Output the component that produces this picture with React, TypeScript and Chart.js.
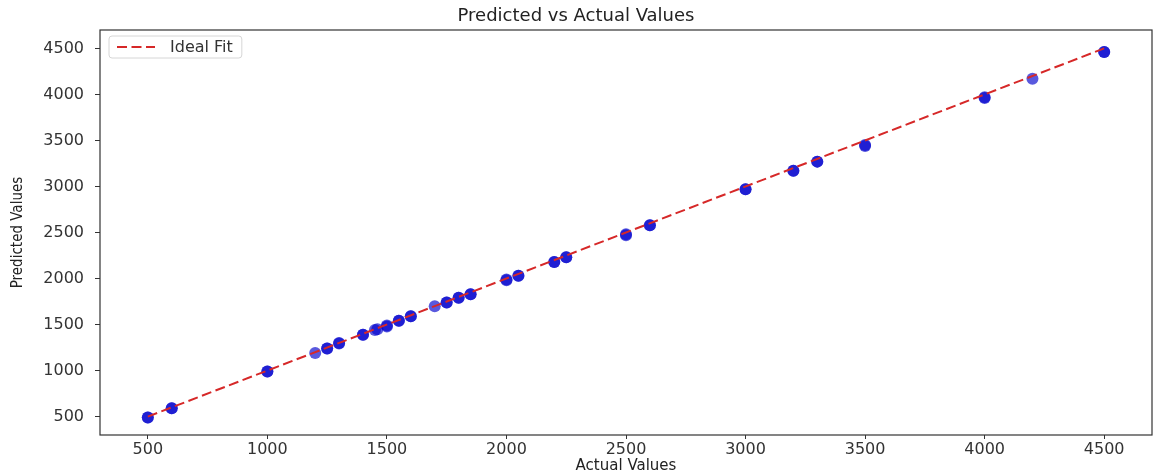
import React, { useEffect, useRef } from "react";
import { Chart, registerables } from "chart.js";

Chart.register(...registerables);

// ---- data ----
const actualValues = [
  500, 500, 600, 600, 1000, 1000, 1200, 1250, 1250, 1300, 1300, 1400, 1400,
  1450, 1460, 1500, 1500, 1550, 1550, 1600, 1600, 1700, 1750, 1750, 1800, 1800,
  1850, 1850, 2000, 2000, 2050, 2050, 2200, 2200, 2250, 2250, 2500, 2500, 2600,
  2600, 3000, 3000, 3200, 3200, 3300, 3300, 3500, 3500, 4000, 4000, 4200, 4500,
  4500,
];
const predictedValues = [
  490, 490, 590, 590, 990, 990, 1190, 1240, 1240, 1300, 1295, 1390, 1390,
  1440, 1450, 1480, 1490, 1540, 1540, 1590, 1590, 1700, 1740, 1740, 1790, 1790,
  1830, 1830, 1980, 1990, 2030, 2030, 2180, 2180, 2230, 2230, 2470, 2480, 2580,
  2580, 2970, 2970, 3170, 3170, 3270, 3270, 3450, 3440, 3960, 3970, 4170, 4460,
  4460,
];
const idealFitX = [500, 4500];
const idealFitY = [500, 4500];
const tickLabels = [500, 1000, 1500, 2000, 2500, 3000, 3500, 4000, 4500];
const axisMin = 300;
const axisMax = 4700;

const chartTitle = "Predicted vs Actual Values";
const xTitle = "Actual Values";
const yTitle = "Predicted Values";
const lineLabel = "Ideal Fit";

const LINE_COLOR = "rgb(214,40,40)";
const LINE_DASH = [10, 4.5];

const framePlugin = {
  id: "mplFrame",
  beforeDraw(chart: any) {
    const ctx = chart.ctx;
    ctx.save();
    ctx.fillStyle = "#ffffff";
    ctx.fillRect(0, 0, chart.width, chart.height);
    ctx.restore();
  },
  afterDraw(chart: any) {
    const ctx = chart.ctx;
    const { left, top, right, bottom } = chart.chartArea;
    ctx.save();
    ctx.strokeStyle = "#333333";
    ctx.lineWidth = 1.2;
    ctx.strokeRect(left, top, right - left, bottom - top);

    // legend box inside the axes (matplotlib style, upper left)
    const label = chart.data.datasets[0].label;
    ctx.font = '16px "DejaVu Sans"';
    const tw = ctx.measureText(label).width;
    const lx = left + 9;
    const ly = top + 6;
    const lh = 22;
    const lw = 8 + 38 + 15 + tw + 9;
    ctx.beginPath();
    (ctx as any).roundRect(lx, ly, lw, lh, 3);
    ctx.fillStyle = "rgba(255,255,255,0.85)";
    ctx.fill();
    ctx.strokeStyle = "#d6d6d6";
    ctx.lineWidth = 1;
    ctx.stroke();

    ctx.beginPath();
    ctx.setLineDash(LINE_DASH);
    ctx.strokeStyle = LINE_COLOR;
    ctx.lineWidth = 2;
    ctx.moveTo(lx + 8, ly + lh / 2);
    ctx.lineTo(lx + 46, ly + lh / 2);
    ctx.stroke();
    ctx.setLineDash([]);

    ctx.fillStyle = "#333333";
    ctx.textBaseline = "middle";
    ctx.textAlign = "left";
    ctx.fillText(label, lx + 61, ly + lh / 2 + 0.5);
    ctx.restore();
  },
};

export default function App() {
  const canvasRef = useRef<HTMLCanvasElement | null>(null);

  useEffect(() => {
    document.body.style.margin = "0";
    const canvas = canvasRef.current;
    if (!canvas) return;

    const scatterData = actualValues.map((x, i) => ({ x, y: predictedValues[i] }));
    const lineData = idealFitX.map((x, i) => ({ x, y: idealFitY[i] }));

    const tickFont = { family: "'DejaVu Sans', sans-serif", size: 16 };

    const chart = new Chart(canvas, {
      type: "scatter",
      data: {
        datasets: [
          {
            type: "line",
            label: lineLabel,
            data: lineData,
            borderColor: LINE_COLOR,
            borderWidth: 2,
            borderDash: LINE_DASH,
            pointRadius: 0,
            fill: false,
            order: 0,
          } as any,
          {
            label: "Predictions",
            data: scatterData,
            backgroundColor: "rgba(0,0,205,0.65)",
            borderWidth: 0,
            pointRadius: 6,
            order: 1,
          },
        ],
      },
      options: {
        responsive: false,
        animation: false,
        layout: { autoPadding: false, padding: { left: 0, right: 2, top: 0, bottom: 0 } },
        plugins: {
          legend: { display: false },
          tooltip: { enabled: false },
          title: {
            display: true,
            text: chartTitle,
            color: "#222222",
            font: { family: "'DejaVu Sans', sans-serif", size: 18, weight: "normal" },
            padding: { top: 6, bottom: 2.4 },
          },
        },
        scales: {
          x: {
            type: "linear",
            min: axisMin,
            max: axisMax,
            afterBuildTicks: (scale: any) => {
              scale.ticks = tickLabels.map((v) => ({ value: v }));
            },
            afterFit: (scale: any) => {
              scale.height = 40;
              scale.paddingLeft = 0;
              scale.paddingRight = 0;
            },
            grid: {
              display: true,
              drawOnChartArea: false,
              drawTicks: true,
              tickLength: 4,
              color: "#333333",
            },
            border: { display: false },
            ticks: {
              color: "#333333",
              font: tickFont,
              padding: 1,
              maxRotation: 0,
              callback: (v: any) => String(v),
            },
            title: {
              display: true,
              text: xTitle,
              color: "#222222",
              font: { family: "'DejaVu Sans', sans-serif", size: 15 },
              padding: { top: 0, bottom: 0 },
            },
          },
          y: {
            type: "linear",
            min: axisMin,
            max: axisMax,
            afterBuildTicks: (scale: any) => {
              scale.ticks = tickLabels.map((v) => ({ value: v }));
            },
            afterFit: (scale: any) => {
              scale.width = 100;
              scale.paddingTop = 0;
              scale.paddingBottom = 0;
            },
            grid: {
              display: true,
              drawOnChartArea: false,
              drawTicks: true,
              tickLength: 5,
              color: "#333333",
            },
            border: { display: false },
            ticks: {
              color: "#333333",
              font: tickFont,
              padding: 11,
              callback: (v: any) => String(v),
            },
            title: {
              display: true,
              text: yTitle,
              color: "#222222",
              font: {
                family: "'DejaVu Sans Condensed', 'Liberation Sans Narrow', 'Liberation Sans', sans-serif",
                size: 15,
              },
              padding: { top: 9, bottom: 0 },
            },
          },
        },
      },
      plugins: [framePlugin],
    });

    return () => {
      chart.destroy();
    };
  }, []);

  return (
    <div style={{ width: 1154, height: 475 }}>
      <canvas ref={canvasRef} width={1154} height={475} style={{ display: "block" }} />
    </div>
  );
}
